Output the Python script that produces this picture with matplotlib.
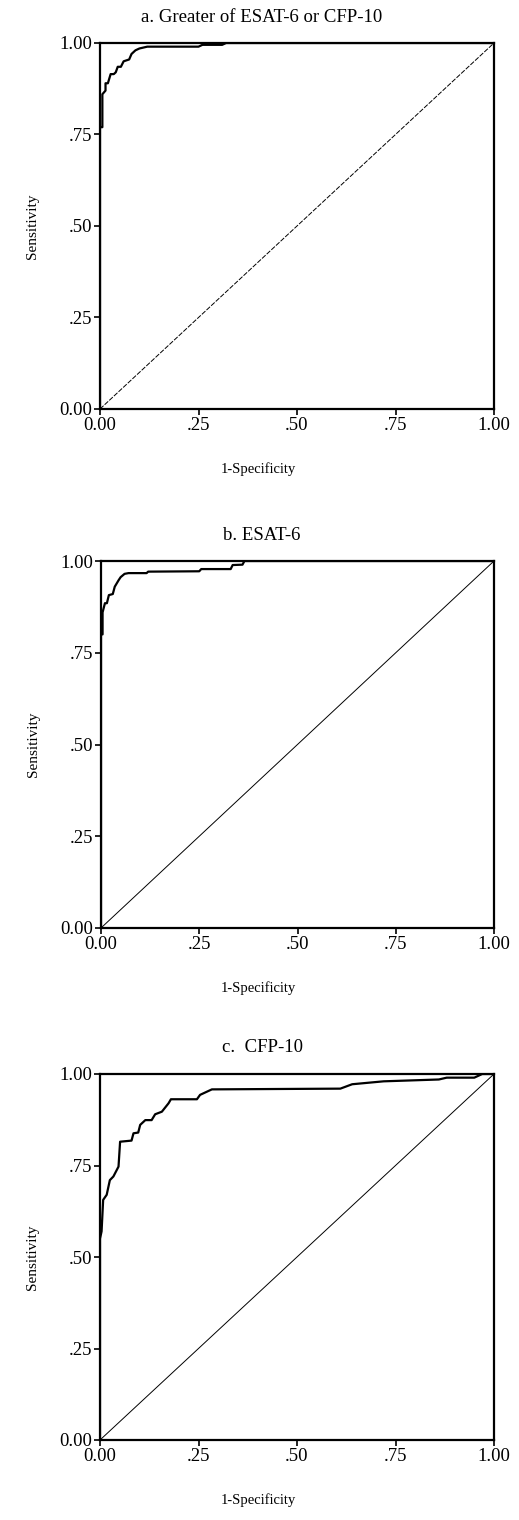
import matplotlib
matplotlib.use('Agg')
import matplotlib.pyplot as plt

plt.rcParams['font.family'] = ['Liberation Serif', 'DejaVu Serif']

# ROC points
titles = ['a. Greater of ESAT-6 or CFP-10', 'b. ESAT-6', 'c.  CFP-10']

fpr_a = [0, 0, 0.006, 0.006, 0.014, 0.014, 0.02, 0.027, 0.035, 0.04, 0.045, 0.053,
         0.06, 0.074, 0.08, 0.09, 0.10, 0.12, 0.25, 0.26, 0.31, 0.32, 1.0]
tpr_a = [0, 0.77, 0.77, 0.86, 0.87, 0.89, 0.89, 0.915, 0.915, 0.92, 0.935, 0.935,
         0.95, 0.955, 0.97, 0.98, 0.985, 0.99, 0.99, 0.995, 0.995, 1.0, 1.0]

fpr_b = [0, 0, 0.004, 0.004, 0.01, 0.015, 0.02, 0.03, 0.035, 0.045, 0.05, 0.06,
         0.07, 0.116, 0.12, 0.25, 0.255, 0.33, 0.335, 0.36, 0.365, 1.0]
tpr_b = [0, 0.80, 0.80, 0.86, 0.885, 0.885, 0.907, 0.91, 0.93, 0.948, 0.956, 0.965,
         0.967, 0.967, 0.971, 0.972, 0.978, 0.978, 0.989, 0.99, 1.0, 1.0]

fpr_c = [0, 0, 0.004, 0.008, 0.017, 0.025, 0.034, 0.047, 0.051, 0.08, 0.085, 0.097,
         0.102, 0.115, 0.131, 0.14, 0.157, 0.174, 0.18, 0.246, 0.254, 0.284, 0.61,
         0.64, 0.72, 0.86, 0.88, 0.95, 0.97, 1.0]
tpr_c = [0, 0.55, 0.57, 0.656, 0.67, 0.71, 0.72, 0.747, 0.815, 0.818, 0.838, 0.84,
         0.861, 0.874, 0.874, 0.89, 0.897, 0.92, 0.931, 0.931, 0.943, 0.958, 0.96,
         0.972, 0.98, 0.985, 0.99, 0.99, 1.0, 1.0]

ticks = [0, 0.25, 0.5, 0.75, 1.0]
x_ticklabels = ['0.00', '.25', '.50', '.75', '1.00']
y_ticklabels = ['0.00', '.25', '.50', '.75', '1.00']

curves = [(fpr_a, tpr_a), (fpr_b, tpr_b), (fpr_c, tpr_c)]
diag_styles = [(0, (5, 1.5)), '-', '-']

W, H = 519, 1520
fig = plt.figure(figsize=(W / 100, H / 100), dpi=100)

# axes boxes in pixels: left, top, right, bottom
boxes = [(100, 43, 494, 409), (101, 561, 494, 928), (100, 1074, 494, 1440)]

for i, (box, (fx, ty)) in enumerate(zip(boxes, curves)):
	l, t, r, b = box
	ax = fig.add_axes([l / W, 1 - b / H, (r - l) / W, (b - t) / H])
	ax.plot(fx, ty, color='black', lw=1.6)
	ax.plot([0, 1], [0, 1], color='black', lw=0.7, linestyle=diag_styles[i])
	ax.set_xlim(0, 1)
	ax.set_ylim(0, 1)
	ax.set_xticks(ticks)
	ax.set_xticklabels(x_ticklabels, fontsize=13.5)
	ax.set_yticks(ticks)
	ax.set_yticklabels(y_ticklabels, fontsize=13.5)
	ax.tick_params(direction='out', length=4, width=1.2, pad=1.5)
	for s in ax.spines.values():
		s.set_linewidth(1.6)
	ax.set_ylabel('Sensitivity', fontsize=11, labelpad=15)
	# title and x label placed by hand, centred a bit left of the axes
	fig.text(262 / W, 1 - (t - 26) / H, titles[i], fontsize=13.5, ha='center', va='center')
	fig.text(258 / W, 1 - (b + 60) / H, '1-Specificity', fontsize=10.5, ha='center', va='center')

fig.savefig('out.png', dpi=100)
